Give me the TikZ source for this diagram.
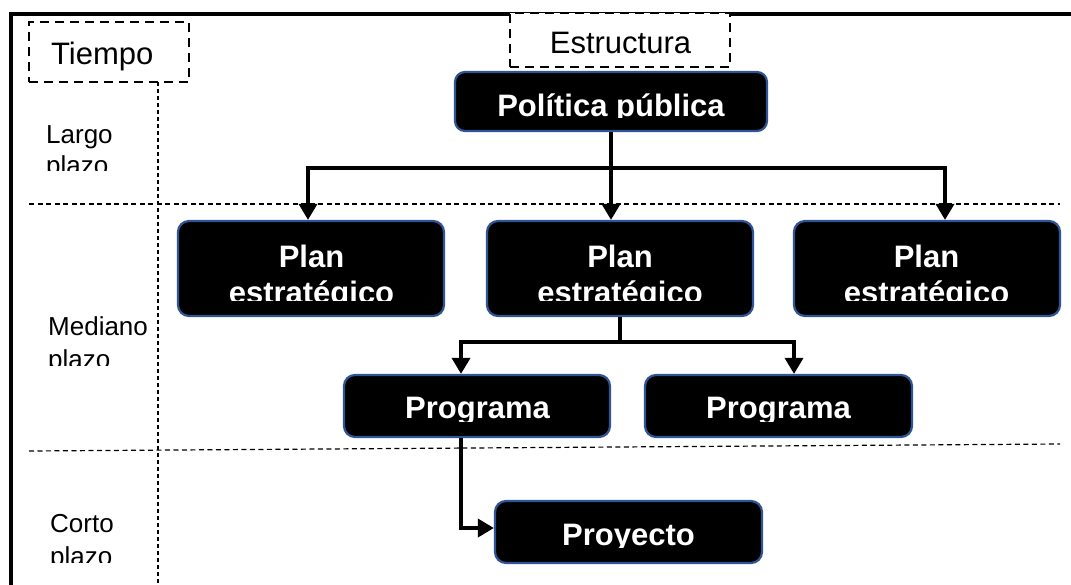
\documentclass[tikz,border=0pt]{standalone}
\usepackage{fontspec}
\setmainfont{Liberation Sans}
\usetikzlibrary{arrows.meta,calc}
\definecolor{boxblue}{HTML}{2F5597}
% \ctext{name}{style}{x}{baseline y}{clip y}{text}
\newcommand{\ctext}[6]{%
  \begin{scope}
    \clip (#3-260,#5-120) rectangle (#3+260,#5);
    \node[#2] (#1) at (#3,#4) {#6};
  \end{scope}}
\tikzset{
  box/.style={draw=boxblue, line width=2.2pt, fill=black, rounded corners=11pt, inner sep=0pt},
  boxtxt/.style={anchor=base, inner sep=0pt, text=white, font=\fontsize{31}{36}\selectfont\bfseries},
  lbl/.style={anchor=base west, inner sep=0pt, font=\fontsize{26}{30}\selectfont},
  ttl/.style={inner sep=0pt, font=\fontsize{31}{36}\selectfont},
  dbox/.style={draw, line width=2.2pt, dash pattern=on 9pt off 6pt, fill=white, inner sep=0pt},
  thindash/.style={line width=1.2pt, dash pattern=on 5pt off 3.5pt},
  vdash/.style={line width=1.2pt, dash pattern=on 4pt off 3pt},
  conn/.style={line width=3.5pt, -{Triangle[width=18pt,length=16pt]}},
  plainconn/.style={line width=3.5pt},
}
\begin{document}
\begin{tikzpicture}[x=1pt,y=-1pt]
\useasboundingbox (0,0) rectangle (1071,584);
\clip (0,0) rectangle (1071,584);

% outer frame
\draw[line width=3.2pt] (1090,14) -- (11,14) -- (11,600);

% time grid lines
\draw[thindash] (29,204) -- (1060,204);
\draw[thindash] (29,451) -- (1060,444);
\draw[vdash] (158,82) -- (158,590);

% header boxes
\node[dbox, minimum width=160pt, minimum height=60pt] (tiempo) at (109,52) {};
\node[ttl, anchor=base west] (tiempotxt) at (51,64) {Tiempo};
\node[dbox, minimum width=220pt, minimum height=54pt] (estr) at (620,40) {};
\node[ttl, anchor=base] (estrtxt) at (620.5,53) {Estructura};

% time labels
\node[lbl] (largo) at (46,143) {Largo};
\ctext{largo2}{lbl}{46}{174}{170}{plazo}
\node[lbl] (mediano) at (48,335) {Mediano};
\ctext{mediano2}{lbl}{48}{368}{365}{plazo}
\node[lbl] (corto) at (50,532) {Corto};
\ctext{corto2}{lbl}{50}{565}{562}{plazo}

% boxes
\node[box, rounded corners=10pt, minimum width=312pt, minimum height=59pt] (pol) at (611,101.5) {};
\node[box, minimum width=266pt, minimum height=95pt] (plan1) at (311,268.5) {};
\node[box, minimum width=266pt, minimum height=95pt] (plan2) at (620,268.5) {};
\node[box, minimum width=266pt, minimum height=95pt] (plan3) at (927,268.5) {};
\node[box, minimum width=266pt, minimum height=62pt] (prog1) at (477,406) {};
\node[box, minimum width=267pt, minimum height=62pt] (prog2) at (778.5,406) {};
\node[box, minimum width=267pt, minimum height=62pt] (proy) at (628.5,532) {};

% box texts (clipped as in the original)
\ctext{poltxt}{boxtxt}{611}{116}{117.5}{Política pública}
\node[boxtxt] (plan1a) at (311.5,267) {Plan};
\ctext{plan1b}{boxtxt}{311.5}{303}{300}{estratégico}
\node[boxtxt] (plan2a) at (620,267) {Plan};
\ctext{plan2b}{boxtxt}{620}{303}{300}{estratégico}
\node[boxtxt] (plan3a) at (926.5,267) {Plan};
\ctext{plan3b}{boxtxt}{926.5}{303}{300}{estratégico}
\ctext{prog1txt}{boxtxt}{477.5}{418}{421.5}{Programa}
\ctext{prog2txt}{boxtxt}{778.5}{418}{421.5}{Programa}
\ctext{proytxt}{boxtxt}{628.5}{545.5}{547.5}{Proyecto}

% connectors
\coordinate (j1) at ($(pol.south)+(0,36)$);
\draw[conn] (pol.south) -- (pol.south |- plan2.north);
\draw[conn] (j1) -| ($(plan1.north)+(-3,0)$);
\draw[conn] (j1) -| ($(plan3.north)+(18,0)$);
\coordinate (j2) at ($(plan2.south)+(0,25)$);
\draw[plainconn] (plan2.south) -- (j2);
\draw[conn] (j2) -| ($(prog1.north)+(-16,0)$);
\draw[conn] (j2) -| ($(prog2.north)+(15.5,0)$);
\draw[conn] ($(prog1.south)+(-16,0)$) |- ($(proy.west)+(0,-4)$);
\end{tikzpicture}
\end{document}
